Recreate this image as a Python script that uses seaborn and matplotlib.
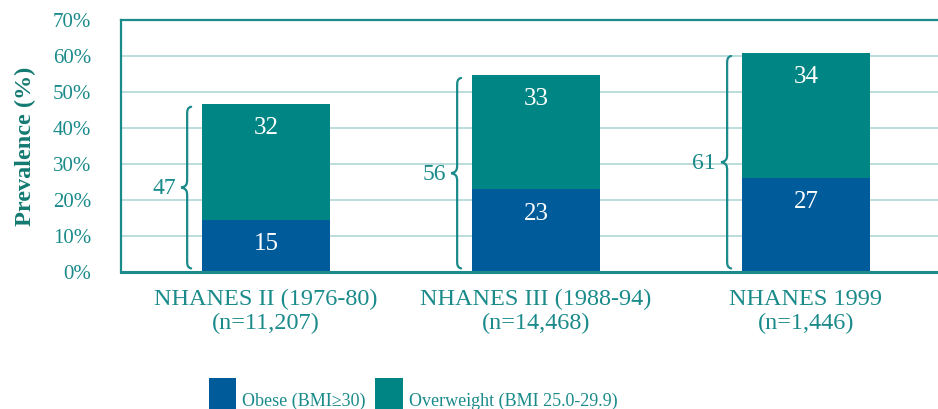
import pandas as pd
import matplotlib
matplotlib.use("Agg")
import matplotlib.pyplot as plt
import seaborn as sns
from matplotlib.path import Path
from matplotlib.patches import PathPatch, Patch

# ----------------------------------------------------------------------
# Data
# ----------------------------------------------------------------------
surveys = ["NHANES II (1976-80)\n(n=11,207)",
           "NHANES III (1988-94)\n(n=14,468)",
           "NHANES 1999\n(n=1,446)"]
obese = [14.4, 23.0, 26.1]
overweight = [32.3, 31.7, 34.7]
obese_labels = ["15", "23", "27"]
overweight_labels = ["32", "33", "34"]
total_labels = ["47", "56", "61"]
yticks = [0, 10, 20, 30, 40, 50, 60, 70]

BLUE = "#005b9b"
TEAL = "#008585"
TEXT_TEAL = "#1a8a8a"
LABEL_TEAL = "#137a72"
GRID = "#a9d3d3"

sns.set_style("white")
plt.rcParams["font.family"] = ["Liberation Serif", "DejaVu Serif"]

df = pd.DataFrame({"survey": surveys, "obese": obese, "overweight": overweight})
df["total"] = df["obese"] + df["overweight"]

fig = plt.figure(figsize=(9.38, 4.09), dpi=100)
ax = fig.add_axes([121 / 938, 137 / 409, 817 / 938, 252 / 409])

BAR_W = 0.474
sns.barplot(data=df, x="survey", y="total", color=TEAL, width=BAR_W,
            saturation=1, linewidth=0, ax=ax, zorder=3)
sns.barplot(data=df, x="survey", y="obese", color=BLUE, width=BAR_W,
            saturation=1, linewidth=0, ax=ax, zorder=3)

ax.set_xlim(-0.537, 2.489)
ax.set_ylim(0, 70)
ax.set_yticks(yticks)
ax.set_yticklabels([f"{t}%" for t in yticks])
ax.yaxis.grid(True, color=GRID, linewidth=1.1, zorder=0)
ax.set_axisbelow(True)
ax.tick_params(axis="y", length=16.5, width=1.1, color=GRID, pad=5,
               labelsize=15, labelcolor=TEXT_TEAL, direction="out")
ax.tick_params(axis="x", length=0, pad=12, labelsize=17.5, labelcolor=TEXT_TEAL)
for lbl in ax.get_xticklabels():
    lbl.set_multialignment("center")

ax.set_xlabel("")
ax.set_ylabel("Prevalence (%)", fontsize=17.5, fontweight="bold", color=LABEL_TEAL)
ax.yaxis.set_label_coords(-0.1175, 0.5)
ax.yaxis.label.set_va("center")

for side in ["top", "left"]:
    ax.spines[side].set_color(TEXT_TEAL)
    ax.spines[side].set_linewidth(1.6)
ax.spines["bottom"].set_color(TEXT_TEAL)
ax.spines["bottom"].set_linewidth(2.2)
ax.spines["right"].set_visible(False)
for s in ax.spines.values():
    s.set_zorder(4)

# value labels inside the bars
for i in range(len(surveys)):
    ax.annotate(obese_labels[i], (i, obese[i]), xytext=(0, -17.5),
                textcoords="offset points", ha="center", va="center",
                color="white", fontsize=18, zorder=5)
    ax.annotate(overweight_labels[i], (i, df["total"][i]), xytext=(0, -17.5),
                textcoords="offset points", ha="center", va="center",
                color="white", fontsize=18, zorder=5)

# curly braces with totals
px_x = (2.489 + 0.537) / 817
px_y = 70 / 252


def brace(ax, x, y0, y1):
    ym = (y0 + y1) / 2
    pts = [(4, 0, y1), (0, -1, y1), (0, -4, y1), (0, -8, y1),
           (0, 8, ym),
           (0, 3, ym), (-1, 1, ym), (-6, 0, ym),
           (-1, -1, ym), (0, -3, ym), (0, -8, ym),
           (0, 8, y0),
           (0, 4, y0), (0, 1, y0), (4, 0, y0)]
    verts = [(x + dx * px_x, yb + dy * px_y) for dx, dy, yb in pts]
    codes = ([Path.MOVETO] + [Path.CURVE4] * 3 + [Path.LINETO]
             + [Path.CURVE4] * 6 + [Path.LINETO] + [Path.CURVE4] * 3)
    ax.add_patch(PathPatch(Path(verts, codes), fill=False, edgecolor=TEXT_TEAL,
                           linewidth=1.6, capstyle="round", zorder=5,
                           clip_on=False))
    return ym


for i, tot in enumerate(df["total"]):
    xs = i - 0.292
    ym = brace(ax, xs, 1.0, tot - 0.8)
    ax.annotate(total_labels[i], (xs, ym), xytext=(-8, -1),
                textcoords="offset points", ha="right", va="center",
                color=TEXT_TEAL, fontsize=17)

handles = [Patch(facecolor=BLUE, edgecolor="none"),
           Patch(facecolor=TEAL, edgecolor="none")]
fig.legend(handles, ["Obese (BMI\u226530)", "Overweight (BMI 25.0-29.9)"],
           loc="upper left", bbox_to_anchor=(209 / 938, 1 - 378 / 409),
           ncol=2, frameon=False, fontsize=13, labelcolor=TEXT_TEAL,
           handlelength=1.5, handleheight=3.5, handletextpad=0.33,
           columnspacing=0.55, borderpad=0, borderaxespad=0)

fig.savefig("out.png", dpi=100, facecolor="white")
